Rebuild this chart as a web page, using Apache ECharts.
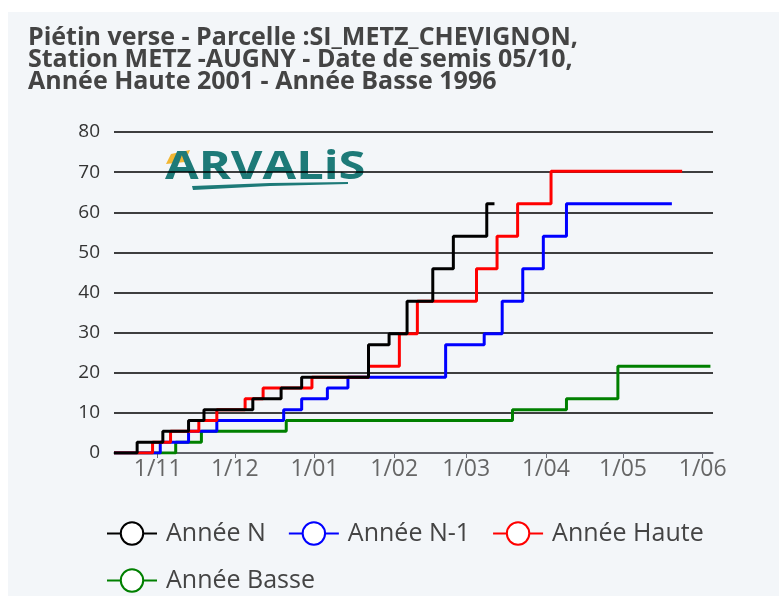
<!DOCTYPE html>
<html>
<head>
<meta charset="utf-8">
<script src="https://cdn.jsdelivr.net/npm/echarts@6/dist/echarts.min.js"></script>
<style>
  html, body { margin: 0; padding: 0; background: #fff; }
  #chart { width: 779px; height: 596px; }
</style>
</head>
<body>
<div id="chart"></div>
<script>
// campagne ramenée sur une saison commune (oct. -> juin)
const datesN = ['2022-10-15', '2022-10-24', '2022-11-03', '2022-11-13', '2022-11-19', '2022-12-08', '2022-12-19', '2022-12-27', '2023-01-22', '2023-01-30', '2023-02-06', '2023-02-16', '2023-02-24', '2023-03-09', '2023-03-12'];
const valuesN = [0, 2.7, 5.4, 8.1, 10.8, 13.5, 16.2, 18.9, 27, 29.7, 37.8, 45.9, 54, 62.1, 62.1];

const datesN1 = ['2022-10-15', '2022-11-02', '2022-11-13', '2022-11-24', '2022-12-20', '2022-12-27', '2023-01-06', '2023-01-14', '2023-02-21', '2023-03-08', '2023-03-15', '2023-03-23', '2023-03-31', '2023-04-09', '2023-05-20'];
const valuesN1 = [0, 2.7, 5.4, 8.1, 10.8, 13.5, 16.2, 18.9, 27, 29.7, 37.8, 45.9, 54, 62.1, 62.1];

const datesHaute = ['2022-10-15', '2022-10-30', '2022-11-06', '2022-11-17', '2022-11-24', '2022-12-05', '2022-12-12', '2022-12-31', '2023-01-22', '2023-02-03', '2023-02-10', '2023-03-05', '2023-03-13', '2023-03-21', '2023-04-03', '2023-05-24'];
const valuesHaute = [0, 2.7, 5.4, 8.1, 10.8, 13.5, 16.2, 18.9, 21.6, 29.7, 37.8, 45.9, 54, 62.1, 70.2, 70.2];

const datesBasse = ['2022-10-15', '2022-11-08', '2022-11-18', '2022-12-21', '2023-03-19', '2023-04-09', '2023-04-29', '2023-06-04'];
const valuesBasse = [0, 2.7, 5.4, 8.1, 10.8, 13.5, 21.6, 21.6];

const seriesNames = ['Année N', 'Année N-1', 'Année Haute', 'Année Basse'];
const seriesColors = ['#000000', '#0000ff', '#ff0000', '#008000'];

const xMin = '2022-10-15';
const xMax = '2023-06-05';

const zip = (d, v) => d.map((x, i) => [x, v[i]]);
const pad = n => (n < 10 ? '0' + n : '' + n);

const chart = echarts.init(document.getElementById('chart'));

const mkSeries = (i, data, z) => ({
  name: seriesNames[i],
  type: 'line',
  step: 'end',
  data: data,
  symbol: 'emptyCircle',
  showSymbol: false,
  z: z,
  color: seriesColors[i],
  lineStyle: { width: 3, color: seriesColors[i] },
  itemStyle: { color: seriesColors[i], borderColor: seriesColors[i], borderWidth: 3 },
  emphasis: { disabled: true },
  animation: false
});

const option = {
  backgroundColor: '#ffffff',
  textStyle: { fontFamily: 'Open Sans' },
  title: {
    text: 'Piétin verse - Parcelle :SI_METZ_CHEVIGNON,\nStation METZ -AUGNY - Date de semis 05/10,\nAnnée Haute 2001 - Année Basse 1996',
    left: 23,
    top: 22,
    textStyle: {
      fontFamily: 'Open Sans',
      fontSize: 25,
      fontWeight: 'bold',
      color: '#444',
      lineHeight: 22
    }
  },
  graphic: [
    {
      type: 'rect', z: -100, silent: true,
      shape: { x: 8, y: 12, width: 771, height: 584 },
      style: { fill: '#f3f6f9' }
    },
    {
      type: 'group', z: -50, silent: true,
      children: [
        { type: 'polygon', shape: { points: [[171, 154], [190, 150], [185, 162], [166, 164]] }, style: { fill: '#f2b632' } },
        { type: 'text', x: 165, y: 148, scaleX: 1.25, style: { text: 'ARVALiS', fill: '#1d7a78', font: 'bold 39px "Open Sans"' } },
        { type: 'polygon', shape: { points: [[192, 186], [270, 183], [348, 182], [348, 184], [270, 186], [193, 190]] }, style: { fill: '#1d7a78' } }
      ]
    }
  ],
  legend: {
    data: seriesNames,
    left: 101,
    top: 516,
    width: 640,
    itemWidth: 50,
    itemHeight: 28,
    itemGap: 22,
    textStyle: { fontSize: 25, color: '#444', fontFamily: 'Open Sans', padding: [0, 2, 0, 4] }
  },
  grid: { left: 114, right: 66, top: 132, bottom: 143, containLabel: false },
  xAxis: {
    type: 'time',
    min: xMin,
    max: xMax,
    minInterval: 28 * 86400000,
    maxInterval: 31 * 86400000,
    axisLine: { lineStyle: { color: '#6e7079', width: 1.5 } },
    axisTick: { show: true, length: 5, lineStyle: { color: '#6e7079' } },
    axisLabel: {
      fontSize: 23,
      color: '#666',
      margin: 5,
      showMinLabel: false,
      showMaxLabel: false,
      formatter: function (v) {
        const d = new Date(v);
        return d.getDate() + '/' + pad(d.getMonth() + 1);
      }
    },
    splitLine: { show: false }
  },
  yAxis: {
    type: 'value',
    min: 0,
    max: 80,
    interval: 10,
    axisLine: { show: false },
    axisTick: { show: false },
    axisLabel: { fontSize: 19, color: '#333', margin: 14 },
    splitLine: { lineStyle: { color: '#000', width: 1.5 } }
  },
  series: [
    mkSeries(0, zip(datesN, valuesN), 5),
    mkSeries(1, zip(datesN1, valuesN1), 3),
    mkSeries(2, zip(datesHaute, valuesHaute), 4),
    mkSeries(3, zip(datesBasse, valuesBasse), 2)
  ]
};

chart.setOption(option);
</script>
</body>
</html>
